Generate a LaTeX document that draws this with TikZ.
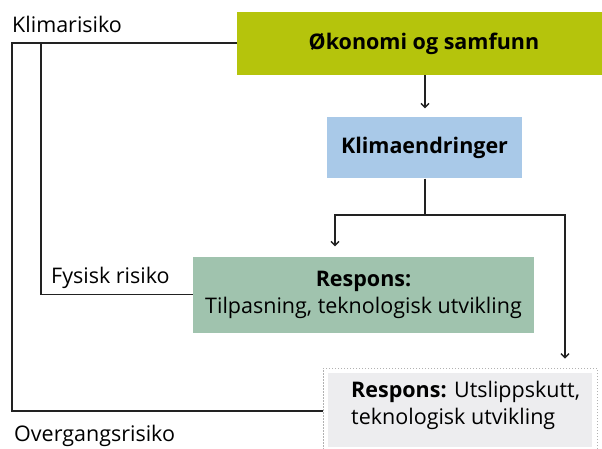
\documentclass[tikz,border=0pt]{standalone}
\usepackage{fontspec}
\setmainfont{Open Sans}
\usetikzlibrary{arrows.meta}
\definecolor{limefill}{HTML}{B5C40C}
\definecolor{bluefill}{HTML}{A9C9E8}
\definecolor{greenfill}{HTML}{A0C3AE}
\definecolor{grayfill}{HTML}{EDEDEF}
\definecolor{linecol}{HTML}{222222}
\begin{document}
\begin{tikzpicture}[x=1pt,y=-1pt,
  box/.style={inner sep=0pt, align=center, text=black},
  conn/.style={draw=linecol, line width=1.2pt},
  arr/.style={conn, -{Straight Barb[length=4pt,width=8pt,line width=1.3pt]}},
  lbl/.style={inner sep=0pt, anchor=base west, text=black},
  txt/.style={font=\fontsize{21.5}{27}\selectfont}]
\useasboundingbox (0,0) rectangle (602,449);
\begin{scope}
\clip (0,0) rectangle (602,449);

% boxes
\node[box, txt, fill=limefill, minimum width=374pt, minimum height=63pt]
  (oko) at (424,43.5) {\textbf{Økonomi og samfunn}};
\node[box, txt, fill=bluefill, minimum width=195pt, minimum height=61pt]
  (klima) at (424.5,148) {\textbf{Klimaendringer}};
\node[box, txt, fill=greenfill, minimum width=341pt, minimum height=76pt]
  (resp1) at (363.5,294.5) {\textbf{Respons:}\\Tilpasning, teknologisk utvikling};
\node[box, draw=gray!60, line width=0.9pt, dash pattern=on 1.5pt off 1.5pt,
  minimum width=274pt, minimum height=86pt] (resp2) at (460,411) {};
\fill[grayfill] (328,373) rectangle (592,447);
% base anchor of a two-line node sits on the last line
\node[lbl, txt, align=left, anchor=base west] (resp2txt) at (351,424)
  {\textbf{Respons:} Utslippskutt,\\teknologisk utvikling};

% flow arrows
\coordinate (split) at (425,215);
\coordinate (jl) at (335,215);
\coordinate (jr) at (565,215);
\draw[arr, shorten >=9pt] (oko.south -| split) -- (klima.north -| split);
\draw[conn] (klima.south -| split) -- (split);
\draw[arr, shorten >=10pt] (split) -- (jl) -- (jl |- resp1.north);
\draw[arr, shorten >=9pt] (split) -- (jr) -- (jr |- resp2.north);

% risk brackets
\coordinate (outer) at (12,43);
\coordinate (inner) at (41,43);
\draw[conn] (oko.west |- outer) -- (outer) -- (outer |- resp2.west) -- (resp2.west);
\draw[conn] (inner) -- (inner |- resp1.west) -- (resp1.west);

% labels
\node[lbl, txt] (klimarisiko) at (12,33) {Klimarisiko};
\node[lbl, txt] (fysisk) at (51,283) {Fysisk risiko};
\node[lbl, txt] (overgang) at (14,441) {Overgangsrisiko};
\end{scope}
\end{tikzpicture}
\end{document}
